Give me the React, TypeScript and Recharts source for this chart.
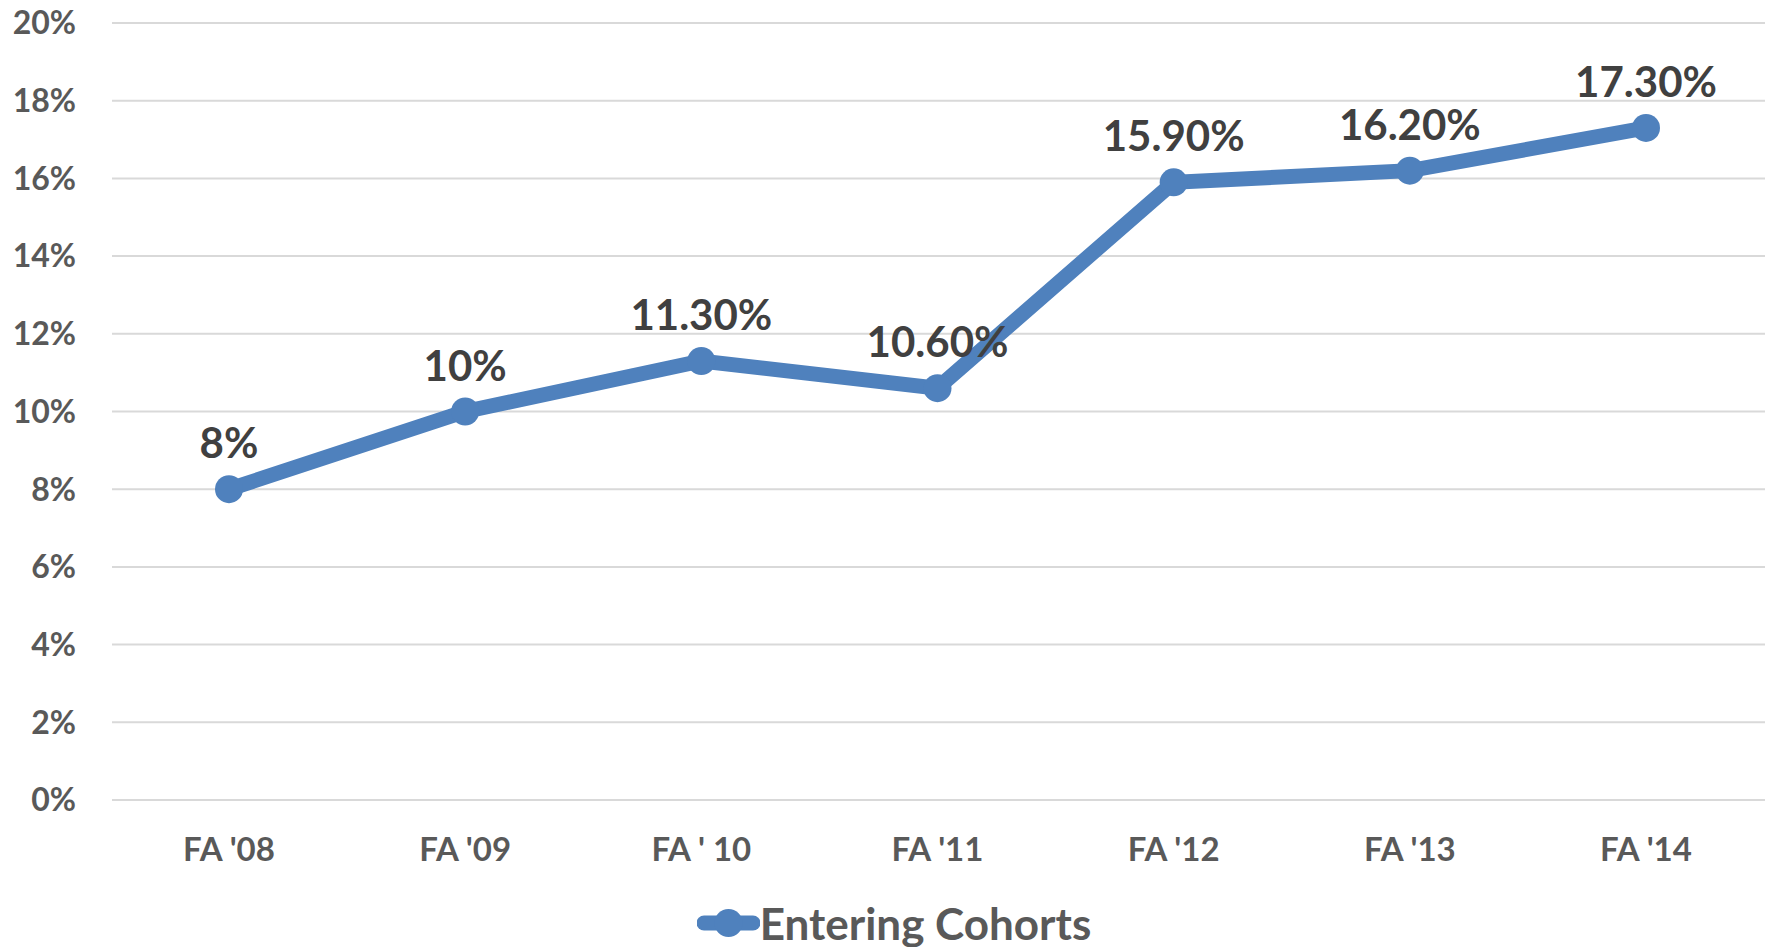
import { CartesianGrid, Legend, Line, LineChart, XAxis, YAxis } from 'recharts'

const cohorts = ["FA '08", "FA '09", "FA ' 10", "FA '11", "FA '12", "FA '13", "FA '14"]
const rates = [8, 10, 11.3, 10.6, 15.9, 16.2, 17.3]
const rateLabels = ['8%', '10%', '11.30%', '10.60%', '15.90%', '16.20%', '17.30%']
const yTicks = [0, 2, 4, 6, 8, 10, 12, 14, 16, 18, 20]

const data = cohorts.map((c, i) => ({ cohort: c, rate: rates[i], label: rateLabels[i] }))

const BLUE = '#4F81BD'
const AXIS = '#595959'
const FONT = 'Lato, "Open Sans", sans-serif'

function PointLabel(props: any) {
  const { x, y, index } = props
  return (
    <text
      x={x}
      y={y - 31}
      textAnchor="middle"
      fill="#404040"
      fontSize={42}
      fontWeight={700}
      fontFamily={FONT}
    >
      {rateLabels[index]}
    </text>
  )
}

function LegendContent() {
  return (
    <div
      style={{
        display: 'flex',
        alignItems: 'center',
        justifyContent: 'center',
        paddingLeft: 20,
        fontFamily: FONT,
        fontWeight: 700,
        fontSize: 44,
        color: AXIS,
      }}
    >
      <svg width={63} height={30}>
        <line x1={7} y1={15} x2={56} y2={15} stroke={BLUE} strokeWidth={15} strokeLinecap="round" />
        <circle cx={31.5} cy={15} r={14} fill={BLUE} />
      </svg>
      <span style={{ lineHeight: '48px' }}>Entering Cohorts</span>
    </div>
  )
}

export default function App() {
  return (
    <div style={{ position: 'absolute', left: 0, top: 0, background: '#fff' }}>
      <LineChart
        width={1768}
        height={947}
        data={data}
        margin={{ top: 23, right: 3, left: 0, bottom: 0 }}
      >
        <CartesianGrid stroke="#D9D9D9" strokeWidth={2} vertical={false} />
        <XAxis
          dataKey="cohort"
          axisLine={false}
          tickLine={false}
          tickSize={0}
          tickMargin={38}
          height={147}
          padding={{ left: 117, right: 119 }}
          tick={{ fill: AXIS, fontSize: 33, fontWeight: 700, fontFamily: FONT }}
          interval={0}
        />
        <YAxis
          width={112}
          domain={[0, 20]}
          ticks={yTicks}
          axisLine={false}
          tickLine={false}
          tickSize={0}
          tickMargin={36}
          tickFormatter={(v: number) => `${v}%`}
          tick={{ fill: AXIS, fontSize: 32, fontWeight: 700, fontFamily: FONT }}
          interval={0}
        />
        <Legend
          verticalAlign="middle"
          layout="horizontal"
          content={<LegendContent />}
          wrapperStyle={{ top: 899, left: 0, width: 1768 }}
        />
        <Line
          dataKey="rate"
          name="Entering Cohorts"
          stroke={BLUE}
          strokeWidth={15}
          dot={{ r: 14, fill: BLUE, stroke: 'none' }}
          activeDot={false}
          label={<PointLabel />}
          isAnimationActive={false}
        />
      </LineChart>
    </div>
  )
}
